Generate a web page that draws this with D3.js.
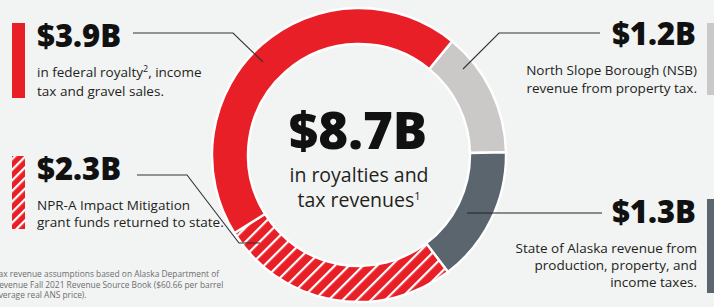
<!DOCTYPE html>
<html>
<head>
<meta charset="utf-8">
<script src="https://cdn.jsdelivr.net/npm/d3@7"></script>
<style>
  html, body { margin: 0; padding: 0; background: #f2f3f3; }
  svg { display: block; font-family: "Open Sans", "Noto Sans", sans-serif; }
</style>
</head>
<body>
<script>
// Revenue pieces, in ring order (clockwise from upper right)
const segKeys = ["nsb", "state", "npra", "federal"];
const segValues = [1.2, 1.3, 2.3, 3.9];
const totalLabel = "$8.7B";
const totalLines = ["in royalties and", "tax revenues"];

// Callout text
const calloutAmounts = ["$1.2B", "$1.3B", "$2.3B", "$3.9B"];
const calloutLines = [
  ["North Slope Borough (NSB)", "revenue from property tax."],
  ["State of Alaska revenue from", "production, property, and", "income taxes."],
  ["NPR-A Impact Mitigation", "grant funds returned to state."],
  ["in federal royalty|2|, income", "tax and gravel sales."]
];
const footnoteLines = [
  "Tax revenue assumptions based on Alaska Department of",
  "Revenue Fall 2021 Revenue Source Book ($60.66 per barrel",
  "average real ANS price)."
];

const W = 714, H = 307;
const colors = { nsb: "#cbc9c7", state: "#5a656e", npra: "url(#hatch)", federal: "#e81f27" };
const barFill = { nsb: "#cbc9c7", state: "#5a656e", npra: "url(#hatchBar)", federal: "#e81f27" };

const svg = d3.select("body").append("svg")
  .attr("width", W).attr("height", H);

svg.append("rect").attr("width", W).attr("height", H).attr("fill", "#f2f3f3");

// Stripe patterns for the grant funds slice
const defs = svg.append("defs");
function stripes(id, gap) {
  const p = defs.append("pattern")
    .attr("id", id)
    .attr("width", gap).attr("height", gap)
    .attr("patternUnits", "userSpaceOnUse")
    .attr("patternTransform", "rotate(45)");
  p.append("rect").attr("width", gap).attr("height", gap).attr("fill", "#e81f27");
  p.append("rect").attr("width", 2.2).attr("height", gap).attr("fill", "#ffffff");
}
stripes("hatch", 10);
stripes("hatchBar", 7.5);

// Donut
const cx = 359, cy = 155, outerR = 147, innerR = 111;
const start = 39.3 * Math.PI / 180;
const pie = d3.pie().sort(null).value(d => d)
  .startAngle(start).endAngle(start + 2 * Math.PI);
const arc = d3.arc().innerRadius(innerR).outerRadius(outerR);
const arcs = pie(segValues);

const g = svg.append("g").attr("transform", `translate(${cx},${cy})`);

g.selectAll("path.slice")
  .data(arcs)
  .enter()
  .append("path")
  .attr("class", "slice")
  .attr("d", arc)
  .attr("fill", (d, i) => colors[segKeys[i]])
  .attr("stroke", "#ffffff")
  .attr("stroke-width", 2.4)
  .attr("stroke-linejoin", "miter");

// Center label
g.append("text")
  .attr("x", -1)
  .attr("y", -6)
  .attr("text-anchor", "middle")
  .attr("font-size", 51)
  .attr("font-weight", 800)
  .attr("fill", "#111")
  .text(totalLabel);

g.selectAll("text.sub")
  .data(totalLines)
  .enter()
  .append("text")
  .attr("class", "sub")
  .attr("y", (d, i) => 27 + i * 25)
  .attr("text-anchor", "middle")
  .attr("font-size", 19.5)
  .attr("fill", "#231f20")
  .each(function (d, i) {
    const t = d3.select(this);
    t.append("tspan").text(d);
    if (i === 1) t.append("tspan").attr("font-size", 11).attr("dy", -7).text("1");
  });

// Leader lines
const leaders = [
  [[600, 33], [499, 33], [463, 69]],
  [[602, 213], [467, 213]],
  [[137, 175], [187, 175], [239, 243], [260, 243]],
  [[133, 33], [233, 33], [263, 62]]
];
const line = d3.line();
svg.selectAll("path.leader")
  .data(leaders)
  .enter()
  .append("path")
  .attr("class", "leader")
  .attr("d", line)
  .attr("fill", "none")
  .attr("stroke", (d, i) => i === 1 ? "#222" : "#333")
  .attr("stroke-width", 1.1);

// Callout blocks: text x, amount baseline, anchor, bar [x, top, bottom]
const blocks = [
  { x: 697, y: 45, anchor: "end", bar: [707, 23, 95] },
  { x: 697, y: 223, anchor: "end", bar: [707, 199, 293] },
  { x: 37, y: 180, anchor: "start", bar: [12, 156, 229] },
  { x: 37, y: 47, anchor: "start", bar: [12, 23, 98] }
];
const lineGap = [18, 17, 17, 19];

blocks.forEach((b, i) => {
  svg.append("rect")
    .attr("x", b.bar[0]).attr("y", b.bar[1])
    .attr("width", 13).attr("height", b.bar[2] - b.bar[1])
    .attr("fill", barFill[segKeys[i]]);

  svg.append("text")
    .attr("x", b.anchor === "end" ? b.x - 1 : b.x)
    .attr("y", b.y)
    .attr("text-anchor", b.anchor)
    .attr("font-size", 31)
    .attr("font-weight", 800)
    .attr("fill", "#111")
    .text(calloutAmounts[i]);

  calloutLines[i].forEach((s, j) => {
    const t = svg.append("text")
      .attr("x", b.x)
      .attr("y", b.y + 30 + j * lineGap[i])
      .attr("text-anchor", b.anchor)
      .attr("font-size", 13.5)
      .attr("fill", "#231f20");
    s.split("|").forEach((part, k) => {
      if (k % 2 === 1) {
        t.append("tspan").attr("font-size", 9).attr("dy", -5).text(part);
      } else {
        t.append("tspan").attr("dy", k > 0 ? 5 : 0).text(part);
      }
    });
  });
});

// Footnote (cut at the left edge in the source)
svg.selectAll("text.foot")
  .data(footnoteLines)
  .enter()
  .append("text")
  .attr("class", "foot")
  .attr("x", -6)
  .attr("y", (d, i) => 277 + i * 10.5)
  .attr("font-size", 8.4)
  .attr("fill", "#6d6e70")
  .text(d => d);
</script>
</body>
</html>
